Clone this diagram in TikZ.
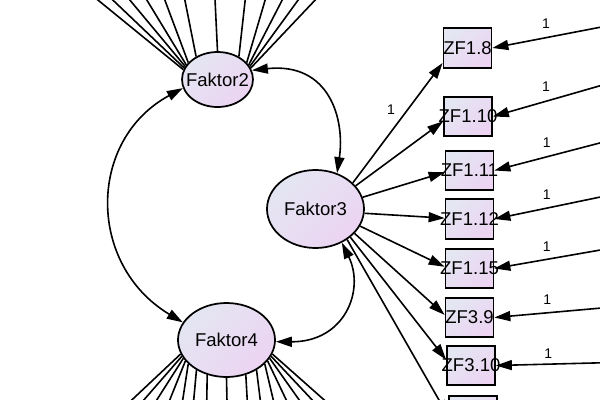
\documentclass[tikz,border=0pt]{standalone}
\usepackage{fontspec}
\setmainfont{Liberation Sans}
\usetikzlibrary{arrows.meta,shapes.geometric}
\definecolor{fillA}{RGB}{228,230,242}
\definecolor{fillB}{RGB}{236,212,242}
\begin{document}
\begin{tikzpicture}[x=0.75pt,y=-0.75pt,
  lat/.style={ellipse,draw,line width=1.3pt,inner sep=0pt,top color=fillA,bottom color=fillB,shading angle=45,font=\fontsize{13.9}{16}\selectfont},
  obs/.style={rectangle,draw,line width=1.3pt,inner sep=0pt,minimum width=36pt,minimum height=29.5pt,top color=fillA,bottom color=fillB,shading angle=45,font=\fontsize{13.9}{16}\selectfont},
  one/.style={font=\fontsize{10.5}{12}\selectfont,inner sep=0pt},
  ln/.style={line width=1.2pt},
  pth/.style={line width=1.2pt,-{Triangle[length=12pt,width=7.5pt]}},
  cov/.style={line width=1.2pt,{Triangle[length=12pt,width=7.5pt]}-{Triangle[length=12pt,width=7.5pt]}}]
\useasboundingbox (0,0) rectangle (600,400);
\clip (0,0) rectangle (600,400);
% latent variables
\node[lat,minimum width=53.25pt,minimum height=41.25pt] (F2) at (217.5,79.5) {\makebox[0pt]{Faktor2}};
\node[lat,minimum width=72.75pt,minimum height=58.5pt] (F3) at (315.5,209) {\makebox[0pt]{Faktor3}};
\node[lat,minimum width=72.75pt,minimum height=55.5pt] (F4) at (226.5,340) {\makebox[0pt]{Faktor4}};
% observed variables
\node[obs] (B1) at (467.5,48) {\makebox[0pt]{ZF1.8}};
\node[obs] (B2) at (468,116.5) {\makebox[0pt]{ZF1.10}};
\node[obs] (B3) at (469.5,170.5) {\makebox[0pt]{ZF1.11}};
\node[obs] (B4) at (469.5,219) {\makebox[0pt]{ZF1.12}};
\node[obs] (B5) at (469.5,268.5) {\makebox[0pt]{ZF1.15}};
\node[obs] (B6) at (469.5,317.5) {\makebox[0pt]{ZF3.9}};
\node[obs] (B7) at (471,365.5) {\makebox[0pt]{ZF3.10}};
\node[obs] (B8) at (473,416) {};
% off-picture ends
\coordinate (t1) at (61.1,-30);  \coordinate (t2) at (81.3,-30);
\coordinate (t3) at (104.8,-30); \coordinate (t4) at (128.6,-30);
\coordinate (t5) at (153.6,-30); \coordinate (t6) at (178.9,-30);
\coordinate (t7) at (213.6,-30); \coordinate (t8) at (248.5,-30);
\coordinate (t9) at (274,-30);   \coordinate (t10) at (297.7,-30);
\coordinate (t11) at (320,-30);  \coordinate (t12) at (343.6,-30);
\coordinate (b1) at (99.9,430);  \coordinate (b2) at (117.7,430);
\coordinate (b3) at (137.6,430); \coordinate (b4) at (157.7,430);
\coordinate (b5) at (178.1,430); \coordinate (b6) at (191,430);
\coordinate (b7) at (206.3,430); \coordinate (b8) at (227.6,430);
\coordinate (b9) at (248.9,430); \coordinate (b10) at (264,430);
\coordinate (b11) at (280.4,430); \coordinate (b12) at (300.6,430);
\coordinate (b13) at (320.5,430); \coordinate (b14) at (340.4,430);
\coordinate (b15) at (358.1,430);
\coordinate (e1) at (640,19.6);  \coordinate (e2) at (640,74.3);
\coordinate (e3) at (640,132.5); \coordinate (e4) at (640,188.8);
\coordinate (e5) at (640,243.1); \coordinate (e6) at (640,304.6);
\coordinate (e7) at (640,361.8);
% Faktor2 loadings (off picture)
\foreach \a/\t in {164/t1,161/t2,158/t3,155/t4,150/t5,133/t6,90/t7,47/t8,30/t9,25/t10,22/t11,19/t12}
  \draw[ln] (F2.\a) -- (\t);
% Faktor4 loadings (off picture)
\foreach \a/\t in {197/b1,200/b2,203/b3,207/b4,212/b5,225/b6,241/b7,270/b8,299/b9,315/b10,328/b11,333/b12,337/b13,340/b14,343/b15}
  \draw[ln] (F4.\a) -- (\t);
% Faktor3 loadings
\draw[pth] (F3.35) -- (B1.211);
\draw[pth] (F3.30) -- (B2.191);
\draw[pth] (F3.14) -- (B3.184);
\draw[pth] (F3.355) -- (B4.178);
\draw[pth] (F3.339) -- (B5.176);
\draw[pth] (F3.328) -- (B6.174);
\draw[pth] (F3.321) -- (B7.167);
\draw[pth] (F3.316) -- (B8.west);
% error terms
\draw[pth] (e1) -- (B1.east);
\draw[pth] (e2) -- (B2.east);
\draw[pth] (e3) -- (B3.east);
\draw[pth] (e4) -- (B4.east);
\draw[pth] (e5) -- (B5.east);
\draw[pth] (e6) -- (B6.east);
\draw[pth] (e7) -- (B7.east);
% covariances
\draw[cov] (F2.15) .. controls (330,62) and (345,120) .. (F3.59);
\draw[cov] (F2.194) .. controls (87,140) and (87,265) .. (F4.158);
\draw[cov] (F3.308) .. controls (365,290) and (345,342) .. (F4.358);
% labels
\node[one] (l0) at (391,110) {1};
\node[one] (l1) at (546,24) {1};
\node[one] (l2) at (546,87) {1};
\node[one] (l3) at (546.7,142.7) {1};
\node[one] (l4) at (546.7,195) {1};
\node[one] (l5) at (546.7,246.7) {1};
\node[one] (l6) at (547.3,300) {1};
\node[one] (l7) at (548.3,353.3) {1};
\end{tikzpicture}
\end{document}
